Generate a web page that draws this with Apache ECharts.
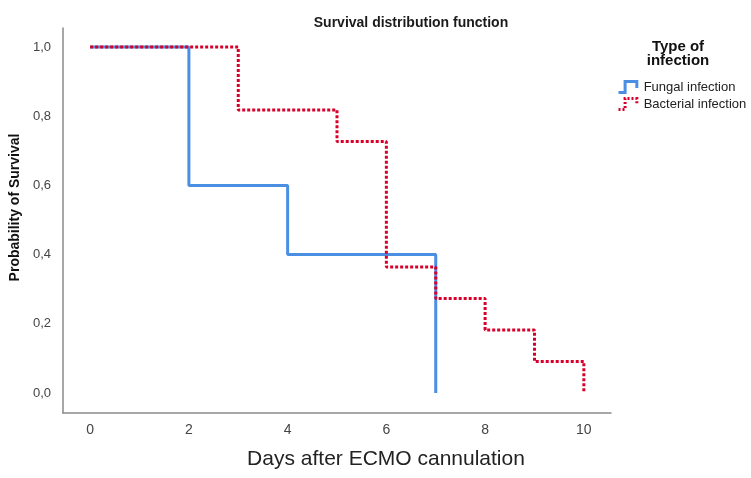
<!DOCTYPE html>
<html>
<head>
<meta charset="utf-8">
<script src="https://cdn.jsdelivr.net/npm/echarts@6/dist/echarts.min.js"></script>
<style>
  html, body { margin: 0; padding: 0; background: #fff; }
  #chart { width: 751px; height: 478px; }
</style>
</head>
<body>
<div id="chart"></div>
<script>
// Kaplan–Meier steps: days after cannulation and survival after each event
const fungalDays = [0, 2, 4, 7];
const fungalSurv = [1.0, 0.6, 0.4, 0.0];
const bacterialDays = [0, 3, 5, 6, 7, 8, 9, 10];
const bacterialSurv = [1.0, 0.818, 0.727, 0.364, 0.273, 0.182, 0.091, 0.0];
const xTicks = [0, 2, 4, 6, 8, 10];
const yTicks = [0, 0.2, 0.4, 0.6, 0.8, 1.0];

const FONT = 'Arial, "Liberation Sans", sans-serif';
const BLUE = '#4a8fe2';
const RED = '#d8002b';
// small step-shaped legend glyph
const STEP_ICON = 'path://M0,18 L9,18 L9,3 L25,3 L25,12';

const chart = echarts.init(document.getElementById('chart'));
chart.setOption({
  backgroundColor: '#fff',
  animation: false,
  textStyle: { fontFamily: FONT },
  title: [
    {
      text: 'Survival distribution function',
      left: 406, top: 11, textAlign: 'center',
      textStyle: { fontSize: 14, fontWeight: 'bold', color: '#1a1a1a', fontFamily: FONT }
    },
    {
      text: 'Type of\ninfection',
      left: 673, top: 35, textAlign: 'center',
      textStyle: { fontSize: 15, fontWeight: 'bold', color: '#111', lineHeight: 14, fontFamily: FONT }
    }
  ],
  legend: {
    orient: 'vertical',
    left: 612, top: 75,
    itemWidth: 22, itemHeight: 11, itemGap: 3,
    textStyle: { fontSize: 13, color: '#222', fontFamily: FONT },
    data: [
      { name: 'Fungal infection', icon: STEP_ICON,
        itemStyle: { color: 'transparent', borderColor: BLUE, borderWidth: 3 } },
      { name: 'Bacterial infection', icon: STEP_ICON,
        itemStyle: { color: 'transparent', borderColor: RED, borderWidth: 3, borderType: [2, 2] } }
    ]
  },
  grid: { left: 63, right: 140, top: 28, bottom: 65, containLabel: false, outerBoundsMode: 'none' },
  xAxis: {
    type: 'value',
    min: -0.55, max: 10.55,
    name: 'Days after ECMO cannulation',
    nameLocation: 'middle', nameGap: 36,
    nameTextStyle: { fontSize: 21, color: '#222', fontFamily: FONT, padding: [0, 0, 0, 98] },
    axisLine: { show: true, onZero: false, lineStyle: { color: '#8a8a8a', width: 1.5 } },
    axisTick: { show: false },
    splitLine: { show: false },
    axisLabel: { customValues: xTicks, fontSize: 14, color: '#444', margin: 10 }
  },
  yAxis: {
    type: 'value',
    min: -0.058, max: 1.055,
    name: 'Probability of Survival',
    nameLocation: 'middle', nameGap: 38,
    nameTextStyle: { fontSize: 14, fontWeight: 'bold', color: '#111', fontFamily: FONT, padding: [0, 0, 0, 26] },
    axisLine: { show: true, onZero: false, lineStyle: { color: '#8a8a8a', width: 1.5 } },
    axisTick: { show: false },
    splitLine: { show: false },
    axisLabel: {
      customValues: yTicks, fontSize: 13, color: '#444', margin: 12,
      formatter: v => v.toFixed(1).replace('.', ',')
    }
  },
  series: [
    {
      name: 'Fungal infection',
      type: 'line', step: 'end', showSymbol: false, z: 2,
      data: fungalDays.map((d, i) => [d, fungalSurv[i]]),
      lineStyle: { color: BLUE, width: 3 },
      itemStyle: { color: BLUE }
    },
    {
      name: 'Bacterial infection',
      type: 'line', step: 'end', showSymbol: false, z: 3,
      data: bacterialDays.map((d, i) => [d, bacterialSurv[i]]),
      lineStyle: { color: RED, width: 3, type: [3, 2] },
      itemStyle: { color: RED }
    }
  ]
});
</script>
</body>
</html>
